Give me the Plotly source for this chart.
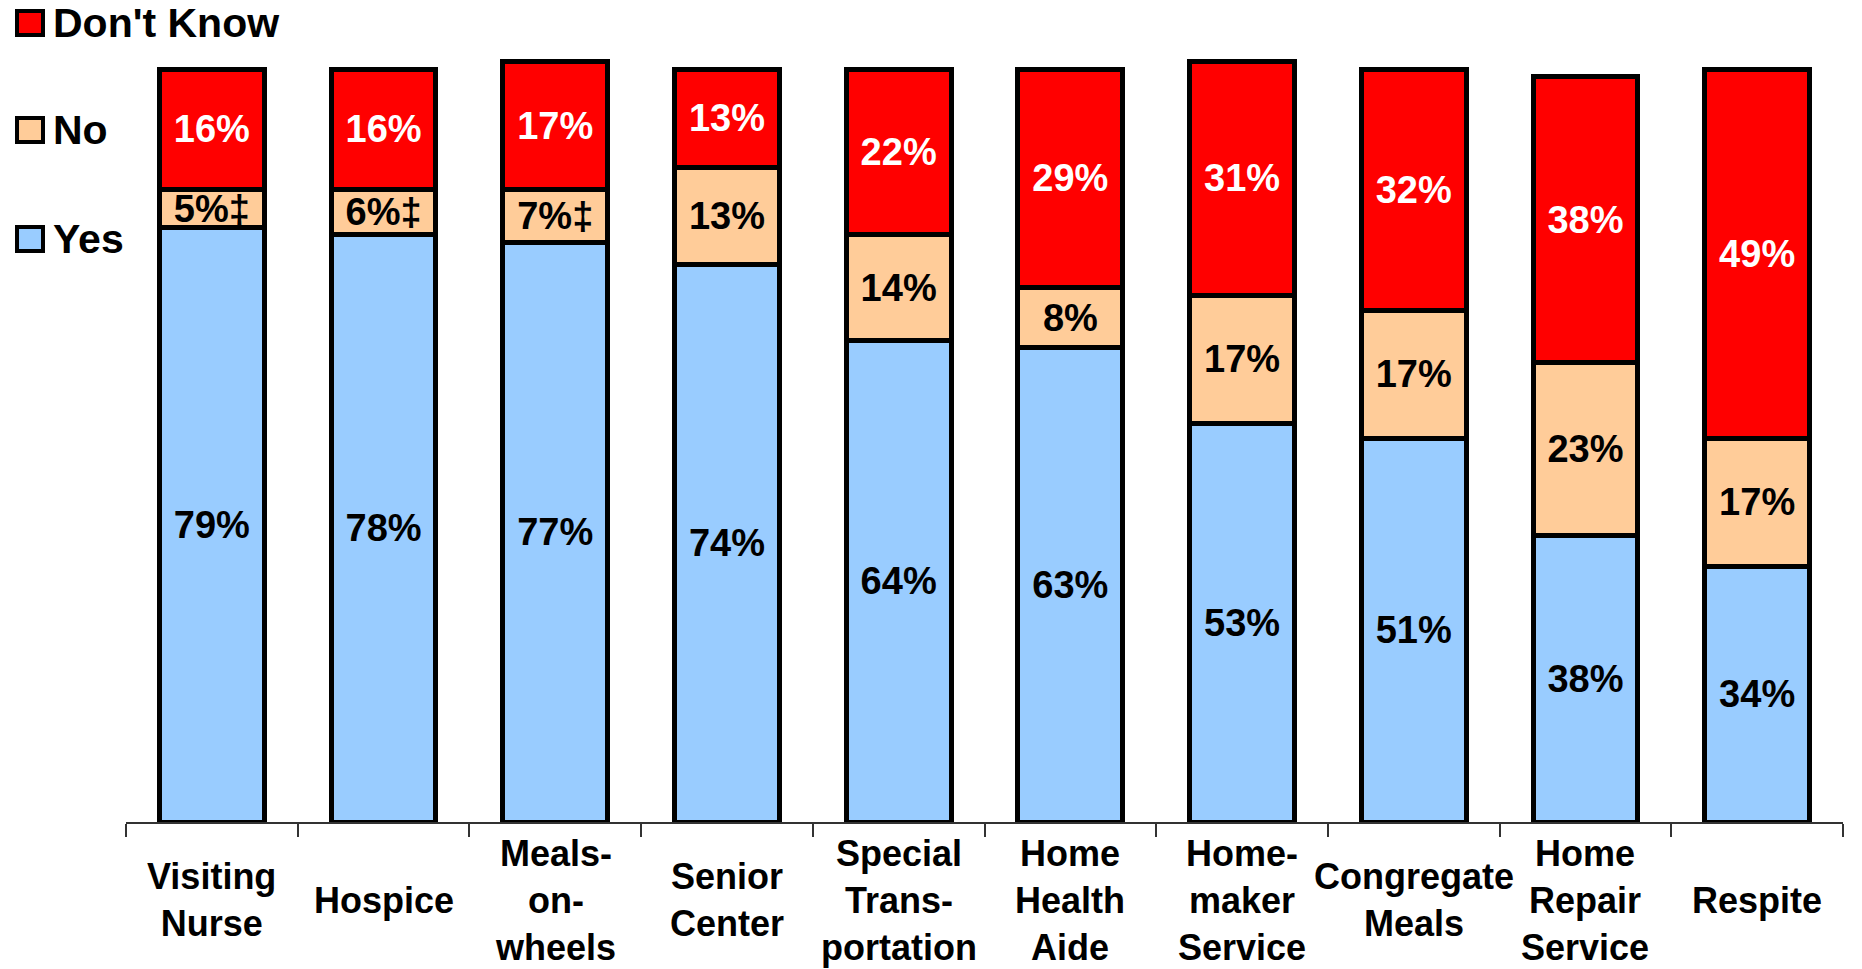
import plotly.graph_objects as go

services = [
    "Visiting Nurse",
    "Hospice",
    "Meals-on-wheels",
    "Senior Center",
    "Special Transportation",
    "Home Health Aide",
    "Home-maker Service",
    "Congregate Meals",
    "Home Repair Service",
    "Respite",
]
tick_labels = [
    "Visiting<br>Nurse",
    "Hospice",
    "Meals-<br>on-<br>wheels",
    "Senior<br>Center",
    "Special<br>Trans-<br>portation",
    "Home<br>Health<br>Aide",
    "Home-<br>maker<br>Service",
    "Congregate<br>Meals",
    "Home<br>Repair<br>Service",
    "Respite",
]
yes_pct = [79, 78, 77, 74, 64, 63, 53, 51, 38, 34]
no_pct = [5, 6, 7, 13, 14, 8, 17, 17, 23, 17]
dont_know_pct = [16, 16, 17, 13, 22, 29, 31, 32, 38, 49]
# "‡" marks the small "No" shares
no_flag = [True, True, True, False, False, False, False, False, False, False]

FONT = "Liberation Sans, Arial, sans-serif"


def pct_text(values, flags=None):
    if flags is None:
        flags = [False] * len(values)
    return [f"{v}%" + ("‡" if f else "") for v, f in zip(values, flags)]


series = [
    ("Yes", yes_pct, "#99CCFF", "black", pct_text(yes_pct)),
    ("No", no_pct, "#FFCC99", "black", pct_text(no_pct, no_flag)),
    ("Don't Know", dont_know_pct, "#FF0000", "white", pct_text(dont_know_pct)),
]

fig = go.Figure()
for name, values, color, text_color, labels in series:
    fig.add_trace(
        go.Bar(
            x=services,
            y=values,
            name=name,
            text=labels,
            textposition="inside",
            insidetextanchor="middle",
            textangle=0,
            textfont=dict(family=FONT, size=38, color=text_color, weight="bold"),
            marker=dict(color=color, line=dict(color="black", width=5)),
            showlegend=False,
        )
    )

# legend drawn by hand so the swatches can be big squares
legend_rows = [("Don't Know", "#FF0000", 23), ("No", "#FFCC99", 130), ("Yes", "#99CCFF", 239)]
for name, color, cy in legend_rows:
    fig.add_annotation(
        xref="paper", yref="paper", x=0, y=1,
        xanchor="center", yanchor="middle",
        xshift=-96, yshift=-cy,
        text=" ", width=22, height=20,
        bgcolor=color, bordercolor="black", borderwidth=4, borderpad=0,
        showarrow=False,
    )
    fig.add_annotation(
        xref="paper", yref="paper", x=0, y=1,
        xanchor="left", yanchor="middle",
        xshift=-75, yshift=-cy,
        text=name,
        font=dict(family=FONT, size=41, color="black", weight="bold"),
        showarrow=False,
    )

# category labels, centred vertically under each slot
for service, label in zip(services, tick_labels):
    fig.add_annotation(
        xref="x", yref="paper", x=service, y=0,
        xanchor="center", yanchor="middle", yshift=-78,
        text=label,
        font=dict(family=FONT, size=36, color="black", weight="bold"),
        showarrow=False,
    )

fig.update_xaxes(
    type="category",
    range=[-0.5, 9.5],
    showticklabels=False,
    automargin=False,
    tickson="boundaries",
    ticks="outside",
    ticklen=13,
    tickwidth=1.5,
    tickcolor="#333333",
    showline=True,
    linecolor="#333333",
    linewidth=1.5,
    showgrid=False,
)
fig.update_yaxes(visible=False, range=[0, 109.2], showgrid=False, automargin=False)
fig.update_layout(
    barmode="stack",
    bargap=0.39,
    width=1862,
    height=969,
    margin=dict(l=126, r=19, t=0, b=147, autoexpand=False),
    plot_bgcolor="white",
    paper_bgcolor="white",
    uniformtext=dict(minsize=38, mode="show"),
)

fig.write_html(
    "out.html",
    config={"displayModeBar": False},
    post_script="document.body.style.margin='0';document.body.style.overflow='hidden';",
)
